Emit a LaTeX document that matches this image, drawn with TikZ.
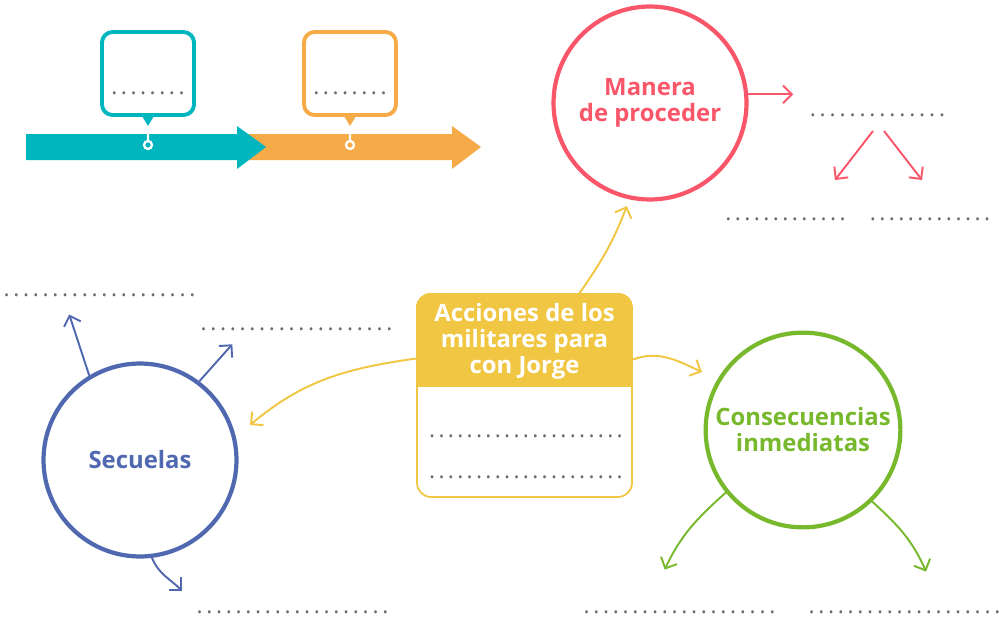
\documentclass[tikz,border=0pt]{standalone}
\usepackage{fontspec}
\setmainfont{Open Sans}
\usepackage{tikz}
\usetikzlibrary{arrows.meta, calc}
\tikzset{
  globo/.style = {draw, line width=2.2pt, rounded corners=6pt, fill=white, minimum width=1.84cm, minimum height=1.66cm},
  flecha/.style = {-{Straight Barb[length=5pt,width=10pt]}, line width=1.1pt}
}
\newcommand{\puntos}[1]{\hbox to #1{\xleaders\hbox to 0.187cm{\hss.\hss}\hfill}}

\begin{document}
\begin{tikzpicture}[x=0.02cm, y=0.02cm]
  \definecolor{turquesa}{RGB}{0,182,190}
  \definecolor{naranja}{RGB}{246,170,72}
  \definecolor{rojo}{RGB}{250,86,106}
  \definecolor{oro}{RGB}{240,198,66}
  \definecolor{azul}{RGB}{80,104,176}
  \definecolor{verde}{RGB}{119,184,44}
  \definecolor{gris}{RGB}{105,105,105}
  \tikzset{
    circulo/.style={circle, draw, line width=2.4pt, minimum size=3.86cm, align=center, font=\bfseries\fontsize{13.6}{14.8}\selectfont},
    puntos/.style={inner sep=0pt, text=gris, font=\fontsize{13}{13}\selectfont},
    titulo/.style={text=white, align=center, font=\bfseries\fontsize{13.6}{14.8}\selectfont}
  }

  \useasboundingbox (0,0) rectangle (999,640);

  % linea de tiempo
  \fill[naranja] (245,506) -- (452,506) -- (452,514) -- (481,493) -- (452,471) -- (452,480) -- (245,480) -- cycle;
  \fill[turquesa] (26,506) -- (237,506) -- (237,514) -- (266,493) -- (237,471) -- (237,480) -- (26,480) -- cycle;

  \node[globo, draw=turquesa] (g1) at (148,566.5) {};
  \node[globo, draw=naranja]  (g2) at (350,566.5) {};
  \fill[turquesa] ($(g1.south)+(-6,1)$) -- ($(g1.south)+(6,1)$) -- ($(g1.south)+(0,-9)$) -- cycle;
  \fill[naranja]  ($(g2.south)+(-6,1)$) -- ($(g2.south)+(6,1)$) -- ($(g2.south)+(0,-9)$) -- cycle;
  \node[puntos] (p1) at (148,547) {\puntos{1.54cm}};
  \node[puntos] (p2) at (350,547) {\puntos{1.54cm}};

  \draw[white, line width=1.3pt] (148,506) -- (148,499) (148,495) circle (0.08cm);
  \draw[white, line width=1.3pt] (350,506) -- (350,499) (350,495) circle (0.08cm);

  % circulos
  \node[circulo, draw=rojo, text=rojo]   (manera)        at (650,537) {Manera\\de proceder};
  \node[circulo, draw=azul, text=azul]   (secuelas)      at (140,180) {Secuelas};
  \node[circulo, draw=verde, text=verde] (consecuencias) at (803,210) {Consecuencias\\inmediatas};

  % caja central
  \node[draw=oro, line width=1pt, rounded corners=8pt, minimum width=4.3cm, minimum height=4.06cm] (acciones) at (524.5,244.5) {};
  \begin{scope}
    \clip[rounded corners=8pt] (acciones.south west) rectangle (acciones.north east);
    \fill[oro] (acciones.north west) rectangle ($(acciones.north east)+(0,-94)$);
  \end{scope}
  \node[titulo] (accionesT) at (524.5,299) {Acciones de los\\militares para\\con Jorge};
  \node[puntos] (a1) at (526,204) {\puntos{3.94cm}};
  \node[puntos] (a2) at (526,163) {\puntos{3.94cm}};

  % renglones
  \node[puntos] (rojo0) at (877.5,525) {\puntos{2.8cm}};
  \node[puntos] (rojo1) at (785.5,421) {\puntos{2.48cm}};
  \node[puntos] (rojo2) at (930,421)   {\puntos{2.48cm}};
  \node[puntos] (azul1) at (99.5,345)  {\puntos{3.92cm}};
  \node[puntos] (azul2) at (296.5,311) {\puntos{3.92cm}};
  \node[puntos] (azul3) at (292.5,28)  {\puntos{3.92cm}};
  \node[puntos] (verde1) at (679.5,28) {\puntos{3.92cm}};
  \node[puntos] (verde2) at (904.5,28) {\puntos{3.92cm}};

  % flechas
  \draw[flecha, oro] ($(acciones.north)+(55,0)$) to[out=55, in=249] ([shift={(-1,-7)}]manera.257);
  \draw[flecha, oro] ($(acciones.west)+(0,37)$) to[out=188, in=40] (250,215);
  \draw[flecha, oro] ($(acciones.east)+(0,36)$) to[out=20, in=155] (702,268);

  \draw[flecha, rojo] (manera.5) -- ++(45,0);
  \draw[flecha, rojo] ($(rojo0)+(-4.5,-16)$) -- ++(-38,-49);
  \draw[flecha, rojo] ($(rojo0)+(6.5,-16)$) -- ++(38,-49);

  \draw[flecha, azul] (secuelas.121) -- ++(-20,61);
  \draw[flecha, azul] (secuelas.53) -- ++(33,37);
  \draw[flecha, azul] (secuelas.-83) to[out=-68, in=135] ++(30,-33);

  \draw[flecha, verde] (consecuencias.219) to[out=222, in=65] ++(-61,-77);
  \draw[flecha, verde] (consecuencias.-46) to[out=-42, in=114] ++(54,-70);
\end{tikzpicture}
\end{document}
